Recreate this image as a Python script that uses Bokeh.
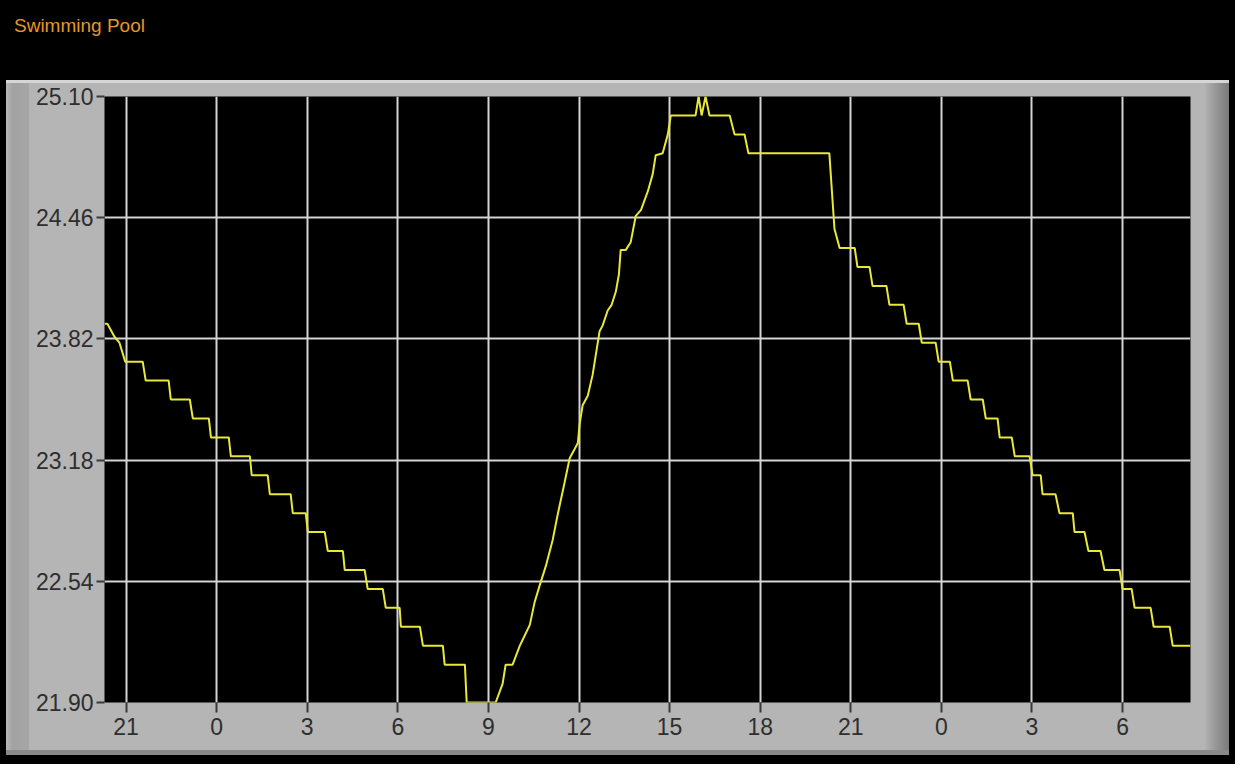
from bokeh.plotting import figure
from bokeh.models import Range1d, FixedTicker, PrintfTickFormatter, Div
from bokeh.layouts import column, row
from bokeh.embed import file_html
from bokeh.resources import INLINE

# ---- data (hours since midnight of day 0; temperature in deg C) ----
hours = [
    20.29, 20.38, 20.62, 20.78, 20.97, 21.55, 21.65, 22.41, 22.48, 23.11,
    23.21, 23.74, 23.81, 24.40, 24.47, 25.10, 25.16, 25.69, 25.76, 26.45,
    26.52, 26.95, 27.02, 27.58, 27.68, 28.18, 28.24, 28.90, 29.00, 29.50,
    29.60, 30.06, 30.10, 30.73, 30.83, 31.49, 31.55, 32.22, 32.28, 33.24,
    33.47, 33.57, 33.80, 34.04, 34.13, 34.37, 34.53, 34.70, 34.90, 35.13,
    35.29, 35.52, 35.69, 35.86, 35.96, 36.02, 36.12, 36.29, 36.45, 36.68,
    36.78, 36.95, 37.08, 37.22, 37.32, 37.38, 37.55, 37.71, 37.88, 38.05,
    38.28, 38.44, 38.54, 38.77, 38.94, 39.04, 39.86, 39.96, 40.06, 40.19,
    40.32, 40.99, 41.15, 41.48, 41.61, 44.29, 44.46, 44.63, 45.13, 45.22,
    45.62, 45.72, 46.18, 46.28, 46.75, 46.85, 47.25, 47.35, 47.81, 47.91,
    48.28, 48.38, 48.87, 48.97, 49.37, 49.47, 49.86, 49.93, 50.33, 50.43,
    50.92, 51.02, 51.29, 51.35, 51.78, 51.91, 52.35, 52.41, 52.74, 52.87,
    53.27, 53.40, 53.90, 54.00, 54.30, 54.40, 54.93, 55.03, 55.56, 55.66,
    56.25,
]
temps = [
    23.90, 23.90, 23.83, 23.80, 23.70, 23.70, 23.60, 23.60, 23.50, 23.50,
    23.40, 23.40, 23.30, 23.30, 23.20, 23.20, 23.10, 23.10, 23.00, 23.00,
    22.90, 22.90, 22.80, 22.80, 22.70, 22.70, 22.60, 22.60, 22.50, 22.50,
    22.40, 22.40, 22.30, 22.30, 22.20, 22.20, 22.10, 22.10, 21.90, 21.90,
    22.00, 22.10, 22.10, 22.20, 22.23, 22.31, 22.43, 22.52, 22.62, 22.76,
    22.89, 23.06, 23.19, 23.24, 23.27, 23.37, 23.47, 23.52, 23.63, 23.86,
    23.89, 23.97, 24.00, 24.07, 24.16, 24.29, 24.29, 24.33, 24.47, 24.50,
    24.60, 24.69, 24.79, 24.80, 24.90, 25.00, 25.00, 25.10, 25.00, 25.10,
    25.00, 25.00, 24.90, 24.90, 24.80, 24.80, 24.40, 24.30, 24.30, 24.20,
    24.20, 24.10, 24.10, 24.00, 24.00, 23.90, 23.90, 23.80, 23.80, 23.70,
    23.70, 23.60, 23.60, 23.50, 23.50, 23.40, 23.40, 23.30, 23.30, 23.20,
    23.20, 23.10, 23.10, 23.00, 23.00, 22.90, 22.90, 22.80, 22.80, 22.70,
    22.70, 22.60, 22.60, 22.50, 22.50, 22.40, 22.40, 22.30, 22.30, 22.20,
    22.20,
]

x_ticks = [21, 24, 27, 30, 33, 36, 39, 42, 45, 48, 51, 54]
x_tick_labels = ["21", "0", "3", "6", "9", "12", "15", "18", "21", "0", "3", "6"]
y_ticks = [21.90, 22.54, 23.18, 23.82, 24.46, 25.10]
x_start, x_end = 20.285, 56.25
y_start, y_end = 21.90, 25.10
title_text = "Swimming Pool"

FIG_W, FIG_H = 1176, 667

p = figure(width=FIG_W, height=FIG_H, output_backend="svg", toolbar_location=None,
           x_range=Range1d(x_start, x_end), y_range=Range1d(y_start, y_end),
           min_border_left=75, min_border_right=15,
           min_border_top=13, min_border_bottom=48,
           background_fill_color="black", border_fill_color="#b5b5b5",
           margin=0)
p.outline_line_color = None

# grid
for g in (p.xgrid, p.ygrid):
    g.grid_line_color = "#d4d4d4"
    g.grid_line_width = 2

# axes
p.xaxis.ticker = FixedTicker(ticks=x_ticks)
p.xaxis.major_label_overrides = {t: lab for t, lab in zip(x_ticks, x_tick_labels)}
p.yaxis.ticker = FixedTicker(ticks=y_ticks)
p.yaxis.formatter = PrintfTickFormatter(format="%.2f")
for ax in (p.xaxis, p.yaxis):
    ax.axis_line_color = None
    ax.minor_tick_line_color = None
    ax.major_tick_in = 0
    ax.major_tick_line_color = "#3a3a3a"
    ax.major_tick_line_width = 2
    ax.major_label_text_color = "#2e2e2e"
    ax.major_label_text_font = "Liberation Sans"
    ax.major_label_text_font_size = "23px"
p.xaxis.major_tick_out = 10
p.xaxis.major_label_standoff = 5
p.yaxis.major_tick_out = 8
p.yaxis.major_label_standoff = 3

# data line
p.line(hours, temps, line_color="#e8e83a", line_width=2)

# ---- surrounding panel (title strip + bevelled gray frame) ----
title = Div(width=1235, height=80, margin=0,
            text=('<div style="padding:16px 0 0 14px;font-family:\'Liberation Sans\';'
                  'font-size:19px;line-height:19px;color:#e6962a;">%s</div>' % title_text),
            styles={"background-color": "black"})
top_hl = Div(width=1223, height=3, margin=0, styles={"background-color": "#d6d6d6"})
left_band = Div(width=23, height=FIG_H, margin=0,
                styles={"background": "linear-gradient(to right, #b8b8b8, #a2a2a2 30%, #a6a6a6)"})
right_band = Div(width=24, height=FIG_H, margin=0,
                 styles={"background": "linear-gradient(to right, #b2b2b2, #9a9a9a 40%, #7a7a7a)"})
bottom_edge = Div(width=1223, height=5, margin=0, styles={"background-color": "#8a8a8a"})

middle = row(left_band, p, right_band, spacing=0, margin=0)
frame = column(top_hl, middle, bottom_edge, spacing=0, margin=(0, 6, 9, 6),
               styles={"background-color": "#b5b5b5"})
page = column(title, frame, spacing=0, margin=0, styles={"background-color": "black"})

open("out.html", "w").write(file_html(page, INLINE))
